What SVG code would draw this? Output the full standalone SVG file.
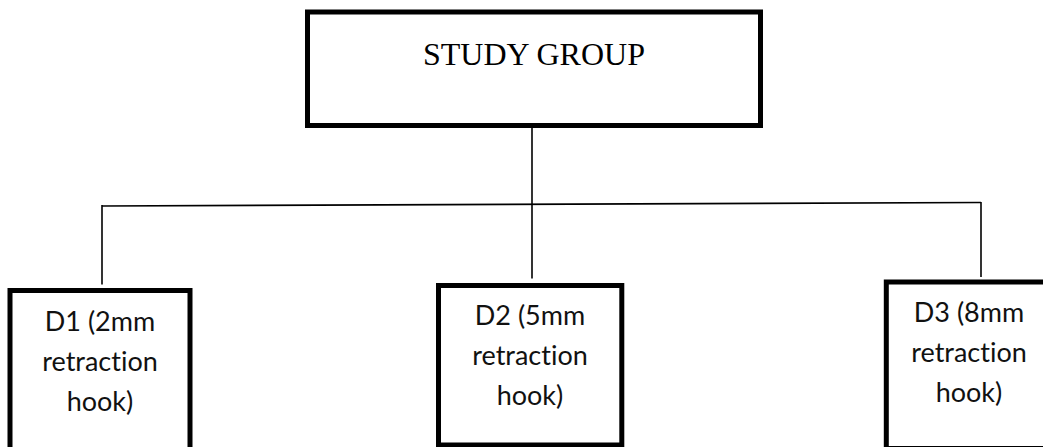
<svg xmlns="http://www.w3.org/2000/svg" width="1043" height="447" viewBox="0 0 1043 447">
<style>
.box{fill:#fff;stroke:#000;stroke-width:5}
.ln{fill:none;stroke:#000;stroke-width:1.6}
.t1{font-family:"Liberation Serif","Times New Roman",serif;font-size:32px;fill:#000;text-anchor:middle}
.t2{font-family:Lato,"Open Sans",sans-serif;font-size:27px;fill:#111;text-anchor:middle;font-variant-ligatures:none;font-feature-settings:"liga" 0}
</style>
<rect width="1043" height="447" fill="#fff"/>
<g id="connectors">
<path class="ln" d="M532 128 L532 278.5"/>
<path class="ln" d="M102 206 L981 202.5"/>
<path class="ln" d="M102 205 L102 284.5"/>
<path class="ln" d="M981 202 L981 277"/>
</g>
<g id="study-group">
<rect class="box" x="307.5" y="12" width="453" height="113.5"/>
<text class="t1" x="534" y="65">STUDY GROUP</text>
</g>
<g id="d1">
<rect class="box" x="10" y="290.5" width="180" height="170"/>
<text class="t2" x="100" y="331">D1 (2mm</text>
<text class="t2" x="100" y="371">retraction</text>
<text class="t2" x="100" y="411">hook)</text>
</g>
<g id="d2">
<rect class="box" x="438.5" y="285.5" width="183.3" height="159.5"/>
<text class="t2" x="530" y="325">D2 (5mm</text>
<text class="t2" x="530" y="365">retraction</text>
<text class="t2" x="530" y="405">hook)</text>
</g>
<g id="d3">
<rect class="box" x="886.3" y="282" width="170" height="166.5"/>
<text class="t2" x="969" y="322">D3 (8mm</text>
<text class="t2" x="969" y="362">retraction</text>
<text class="t2" x="969" y="402">hook)</text>
</g>
</svg>
